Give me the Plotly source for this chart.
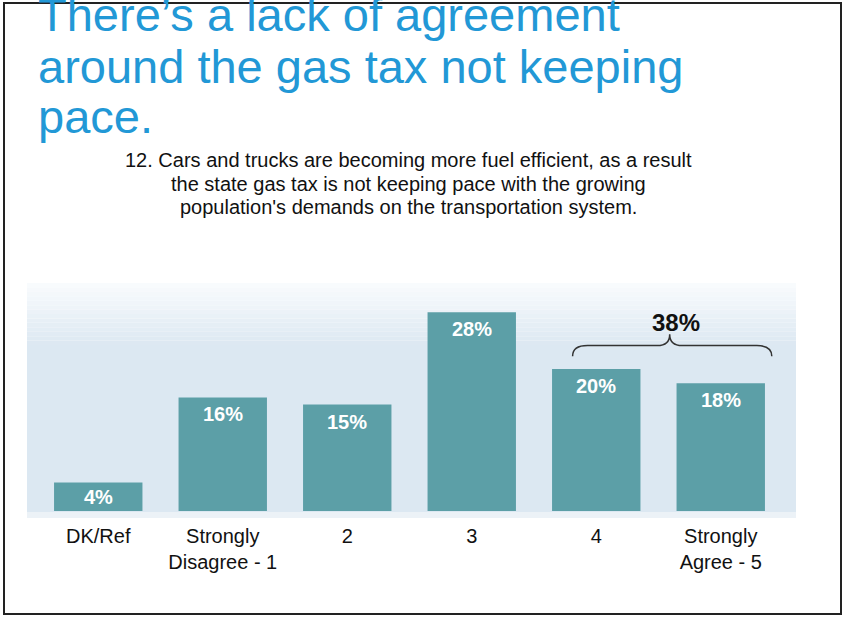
import plotly.graph_objects as go

# ---- data ----
categories = ["DK/Ref", "Strongly<br>Disagree - 1", "2", "3", "4", "Strongly<br>Agree - 5"]
values = [4, 16, 15, 28, 20, 18]
value_labels = ["4%", "16%", "15%", "28%", "20%", "18%"]
agree_total_label = "38%"
agree_indices = [4, 5]
title_lines = ["There’s a lack of agreement", "around the gas tax not keeping", "pace."]
question_lines = ["12. Cars and trucks are becoming more fuel efficient, as a result",
                  "the state gas tax is not keeping pace with the growing",
                  "population's demands on the transportation system."]

# ---- layout geometry (pixels) ----
W, H = 845, 617
L, R, B, T = 36, 783, 511, 298


def px2x(px):
    return (px - L) / (R - L)


def py2y(py):
    return (B - py) / (B - T)


FONT = "Liberation Sans, Arial, sans-serif"
BAR = "#5c9fa7"
TITLE_BLUE = "#2298d6"

xs = list(range(len(categories)))

fig = go.Figure()
fig.add_trace(go.Bar(
    x=xs, y=values, width=0.71,
    marker=dict(color=BAR, line=dict(width=0)),
    hoverinfo="skip", showlegend=False,
))

shapes = []
# background soft band (gradient via strips)
top_px, full_px, bot_px = 283, 345, 512
n = 14
c0 = (250, 252, 254)
c1 = (220, 232, 242)
for i in range(n):
    a = top_px + (full_px - top_px) * i / n
    b = top_px + (full_px - top_px) * (i + 1) / n
    t = (i + 0.5) / n
    col = tuple(int(c0[k] + (c1[k] - c0[k]) * t) for k in range(3))
    shapes.append(dict(type="rect", xref="paper", yref="paper",
                       x0=px2x(27), x1=px2x(796), y0=py2y(b), y1=py2y(a),
                       fillcolor="rgb(%d,%d,%d)" % col, line=dict(width=0), layer="below"))
shapes.append(dict(type="rect", xref="paper", yref="paper",
                   x0=px2x(27), x1=px2x(796), y0=py2y(bot_px), y1=py2y(full_px),
                   fillcolor="rgb(%d,%d,%d)" % c1, line=dict(width=0), layer="below"))
shapes.append(dict(type="rect", xref="paper", yref="paper",
                   x0=px2x(27), x1=px2x(796), y0=py2y(bot_px + 6), y1=py2y(bot_px),
                   fillcolor="rgb(236,242,247)", line=dict(width=0), layer="below"))

# bracket over agree bars
xl = agree_indices[0] - 0.19
xr = agree_indices[1] + 0.41
xm = agree_indices[0] + 0.59
yh, ye, yt = 23.3, 21.8, 24.9
path = (f"M {xl},{ye} Q {xl},{yh} {xl+0.12},{yh} L {xm-0.1},{yh} "
        f"Q {xm},{yh} {xm},{yt} Q {xm},{yh} {xm+0.1},{yh} "
        f"L {xr-0.12},{yh} Q {xr},{yh} {xr},{ye}")
shapes.append(dict(type="path", xref="x", yref="y", path=path,
                   line=dict(color="#333333", width=1.5)))

# slide border
shapes.append(dict(type="rect", xref="paper", yref="paper",
                   x0=px2x(4), x1=px2x(841), y0=py2y(614), y1=py2y(3),
                   line=dict(color="#222222", width=2), fillcolor="rgba(0,0,0,0)"))

annotations = []
for x, v, lab in zip(xs, values, value_labels):
    shift = -4 if v > 6 else -1
    annotations.append(dict(x=x, y=v, xref="x", yref="y", text=f"<b>{lab}</b>",
                            showarrow=False, yanchor="top", yshift=shift,
                            font=dict(family=FONT, size=20, color="white")))

annotations.append(dict(x=(xl + xr) / 2 + 0.03, y=26.6, xref="x", yref="y",
                        text=f"<b>{agree_total_label}</b>", showarrow=False,
                        yanchor="middle", font=dict(family=FONT, size=24, color="#111111")))

# title lines (top line is cut by the slide edge, as in the source)
for line, base in zip(title_lines, [31, 83, 133]):
    annotations.append(dict(x=px2x(36), y=py2y(base + 12), xref="paper", yref="paper",
                            text=line, showarrow=False, xanchor="left", yanchor="bottom",
                            font=dict(family=FONT, size=47, color=TITLE_BLUE)))

# question lines
for line, cy in zip(question_lines, [160, 184, 207]):
    annotations.append(dict(x=px2x(408), y=py2y(cy), xref="paper", yref="paper",
                            text=line, showarrow=False, xanchor="center", yanchor="middle",
                            font=dict(family=FONT, size=20, color="#111111")))

fig.update_layout(
    width=W, height=H,
    margin=dict(l=L, r=W - R, t=T, b=H - B, pad=0),
    paper_bgcolor="white", plot_bgcolor="rgba(0,0,0,0)",
    shapes=shapes, annotations=annotations,
    xaxis=dict(range=[-0.5, 5.5], tickvals=xs, ticktext=categories,
               showgrid=False, zeroline=False, showline=False, ticks="",
               ticklabelstandoff=11,
               tickfont=dict(family=FONT, size=20, color="#111111")),
    yaxis=dict(range=[0, 30], visible=False, showgrid=False, zeroline=False),
    font=dict(family=FONT),
)

fig.write_html("out.html", config={"displayModeBar": False},
               post_script="document.body.style.margin='0';document.body.style.overflow='hidden';")
